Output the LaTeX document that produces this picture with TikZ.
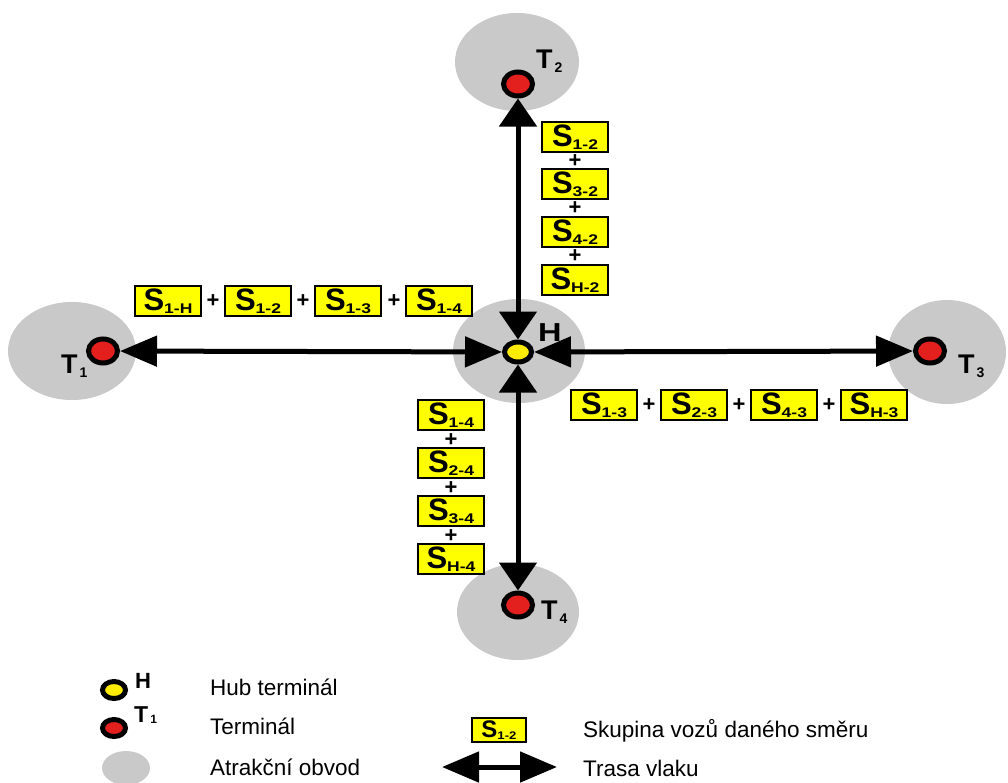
\documentclass[tikz,border=0pt]{standalone}
\usepackage{fontspec}
\usepackage{graphicx}
\setmainfont{Liberation Sans}
\usetikzlibrary{arrows.meta,shapes.geometric}
\definecolor{attr}{RGB}{201,201,201}
\definecolor{boxy}{RGB}{255,255,0}
\definecolor{dotred}{RGB}{228,32,30}
\definecolor{doty}{RGB}{255,236,0}
\newcommand{\skup}[1]{{\fontsize{31}{31}\selectfont\bfseries S}\raisebox{-3pt}{\scalebox{1.25}[1]{\fontsize{14}{14}\selectfont\bfseries #1}}}
\newcommand{\skupsm}[1]{{\fontsize{24}{24}\selectfont\bfseries S}\raisebox{-2pt}{\scalebox{1.2}[1]{\fontsize{11}{11}\selectfont\bfseries #1}}}
\newcommand{\tlab}[1]{{\fontsize{27}{27}\selectfont\bfseries T}\kern2pt\raisebox{-4pt}{\fontsize{14}{14}\selectfont\bfseries #1}}
\tikzset{
  sbox/.style={draw, line width=1.8pt, fill=boxy, minimum width=66pt, minimum height=30pt, inner sep=0pt},
  sboxsm/.style={draw, line width=1.6pt, fill=boxy, minimum width=54pt, minimum height=24pt, inner sep=0pt},
  plus/.style={font=\fontsize{22}{22}\selectfont\bfseries, inner sep=0pt},
  hubdot/.style={ellipse, draw=black, fill=doty, line width=5pt, minimum width=27pt, minimum height=20pt, inner sep=0pt},
  termdot/.style={ellipse, draw=black, fill=dotred, line width=5pt, minimum width=29pt, minimum height=24pt, inner sep=0pt},
  hubdotsm/.style={ellipse, draw=black, fill=doty, line width=5pt, minimum width=23pt, minimum height=17pt, inner sep=0pt},
  termdotsm/.style={ellipse, draw=black, fill=dotred, line width=5pt, minimum width=23pt, minimum height=17pt, inner sep=0pt},
  lbl/.style={inner sep=0pt, anchor=base west},
  legtxt/.style={inner sep=0pt, anchor=base west, font=\fontsize{22.5}{22.5}\selectfont},
  hroute/.style={line width=5pt, {Triangle[width=30pt,length=37pt]}-{Triangle[width=30pt,length=37pt]}},
  vroute/.style={line width=5pt, {Triangle[width=37pt,length=28pt]}-{Triangle[width=37pt,length=28pt]}},
  attrarea/.style={fill=attr}
}
\begin{document}
\begin{tikzpicture}[x=1pt,y=-1pt]
\useasboundingbox (0,0) rectangle (1008,782);
\fill[white] (0,0) rectangle (1008,782);

% attraction areas
\fill[attrarea] (72,351) ellipse [x radius=64pt, y radius=49pt];
\fill[attrarea] (517,62) ellipse [x radius=62pt, y radius=49pt];
\fill[attrarea] (519,351) ellipse [x radius=66pt, y radius=52pt];
\fill[attrarea] (947,352) ellipse [x radius=59pt, y radius=52pt];
\fill[attrarea] (518,612) ellipse [x radius=61pt, y radius=48pt];

% terminals
\node[hubdot] (H) at (518,352) {};
\node[termdot] (T1) at (103,351) {};
\node[termdot] (T2) at (518,84) {};
\node[termdot] (T3) at (930,351) {};
\node[termdot] (T4) at (518,605) {};

\node[lbl, font=\fontsize{26}{26}\selectfont\bfseries] (lH) at (538,341) {\scalebox{1.25}[1]{H}};
\node[lbl] (lT1) at (61,373) {\tlab{1}};
\node[lbl] (lT2) at (536,68) {\tlab{2}};
\node[lbl] (lT3) at (958,373) {\tlab{3}};
\node[lbl] (lT4) at (541,619) {\tlab{4}};

% routes
\draw[hroute] (T1) -- (H);
\draw[vroute] (H) -- (T2);
\draw[hroute] (H) -- (T3);
\draw[vroute] (H) -- (T4);

% groups to T2
\node[sbox] (a1) at (575,137) {\skup{1-2}};
\node[plus] (ap1) at (575,161) {+};
\node[sbox] (a2) at (575,184) {\skup{3-2}};
\node[plus] (ap2) at (575,208) {+};
\node[sbox] (a3) at (575,232) {\skup{4-2}};
\node[plus] (ap3) at (575,256) {+};
\node[sbox] (a4) at (575,280) {\skup{H-2}};

% groups from T1
\node[sbox] (b1) at (168,301) {\skup{1-H}};
\node[plus] (bp1) at (213,301) {+};
\node[sbox] (b2) at (258,301) {\skup{1-2}};
\node[plus] (bp2) at (303,301) {+};
\node[sbox] (b3) at (348,301) {\skup{1-3}};
\node[plus] (bp3) at (394,301) {+};
\node[sbox] (b4) at (439,301) {\skup{1-4}};

% groups to T3
\node[sbox] (c1) at (604,405) {\skup{1-3}};
\node[plus] (cp1) at (649,405) {+};
\node[sbox] (c2) at (694,405) {\skup{2-3}};
\node[plus] (cp2) at (739,405) {+};
\node[sbox] (c3) at (784,405) {\skup{4-3}};
\node[plus] (cp3) at (829,405) {+};
\node[sbox] (c4) at (874,405) {\skup{H-3}};

% groups to T4
\node[sbox] (d1) at (451,415) {\skup{1-4}};
\node[plus] (dp1) at (451,440) {+};
\node[sbox] (d2) at (451,463) {\skup{2-4}};
\node[plus] (dp2) at (451,488) {+};
\node[sbox] (d3) at (451,511) {\skup{3-4}};
\node[plus] (dp3) at (451,536) {+};
\node[sbox] (d4) at (451,559) {\skup{H-4}};

% legend
\node[hubdotsm] (LH) at (114,690) {};
\node[lbl, font=\fontsize{22}{22}\selectfont\bfseries] (LHl) at (135,688) {H};
\node[legtxt] (LHt) at (210,695) {Hub terminál};
\node[termdotsm] (LT) at (114,728) {};
\node[lbl] (LTl) at (134,722) {{\fontsize{23}{23}\selectfont\bfseries T}\kern2pt\raisebox{-1pt}{\fontsize{12}{12}\selectfont\bfseries 1}};
\node[legtxt] (LTt) at (210,734) {Terminál};
\fill[attrarea] (126,768) ellipse [x radius=24pt, y radius=17pt];
\node[legtxt] (LAt) at (210,775) {Atrakční obvod};

\node[sboxsm] (LS) at (499,730) {\skupsm{1-2}};
\node[legtxt] (LSt) at (583,737) {Skupina vozů daného směru};
\coordinate (LRa) at (442,767);
\coordinate (LRb) at (557,767);
\draw[hroute] (LRa) -- (LRb);
\node[legtxt] (LRt) at (583,776) {Trasa vlaku};
\end{tikzpicture}
\end{document}
